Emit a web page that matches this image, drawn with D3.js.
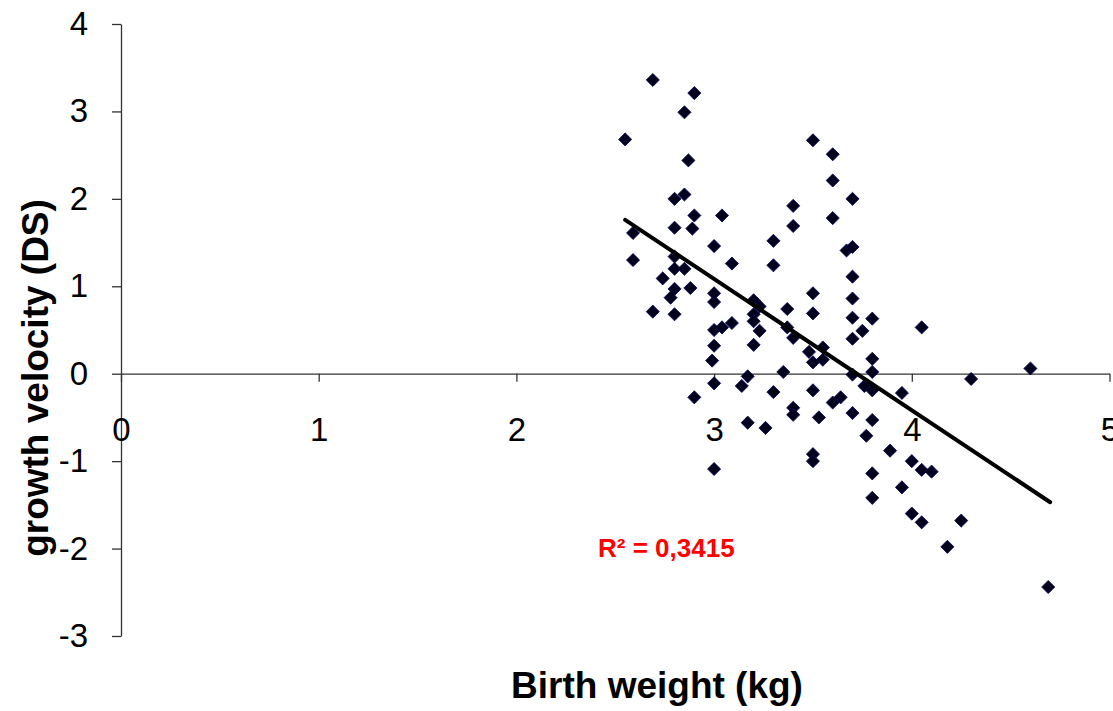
<!DOCTYPE html>
<html>
<head>
<meta charset="utf-8">
<script src="https://cdn.jsdelivr.net/npm/d3@7"></script>
<style>
  html, body { margin: 0; padding: 0; background: #fff; }
  svg { display: block; font-family: "Liberation Sans", Arial, sans-serif; }
</style>
</head>
<body>
<div id="chart"></div>
<script>
// birth weight (kg) of each child
const birthWeight = [
  2.55, 2.69, 2.90, 2.85, 2.87, 2.80, 2.85, 2.90, 3.04, 2.80, 2.89, 2.59, 3.00, 2.59, 2.80, 3.09,
  2.80, 2.85, 2.74, 2.80, 2.88, 2.78, 3.00, 3.00, 2.69, 2.80, 3.00, 3.04, 3.09, 3.00, 2.99, 3.00,
  3.14, 3.17, 2.90, 3.17, 3.00,
  3.50, 3.60, 3.60, 3.70, 3.40, 3.60, 3.40, 3.30, 3.67, 3.70, 3.30, 3.70, 3.50, 3.20, 3.23, 3.70,
  3.37, 3.50, 3.20, 3.20, 3.70, 3.80, 3.23, 3.37, 3.75, 3.40, 3.70, 3.20, 3.55, 3.48, 3.50, 3.55,
  3.80, 3.35, 3.70, 3.80, 3.76, 3.80, 3.30, 3.50, 3.60, 3.64, 3.40, 3.40, 3.53, 3.70, 3.80, 3.26,
  3.77, 3.50, 3.50, 3.80, 3.89, 3.80,
  4.05, 4.60, 4.30, 3.95, 4.00, 4.05, 4.10, 3.95, 4.00, 4.05, 4.25, 4.18, 4.69
];

// growth velocity (DS), same order
const growthVelocity = [
  2.68, 3.36, 3.21, 2.99, 2.44, 2.00, 2.05, 1.81, 1.81, 1.67, 1.66, 1.61, 1.46, 1.30, 1.34, 1.26,
  1.20, 1.20, 1.09, 0.97, 0.98, 0.87, 0.92, 0.82, 0.71, 0.68, 0.50, 0.53, 0.58, 0.32, 0.15, -0.11,
  -0.14, -0.03, -0.27, -0.56, -1.09,
  2.67, 2.51, 2.21, 2.00, 1.92, 1.78, 1.69, 1.52, 1.41, 1.45, 1.24, 1.11, 0.92, 0.84, 0.77, 0.86,
  0.74, 0.69, 0.68, 0.60, 0.64, 0.63, 0.49, 0.53, 0.49, 0.41, 0.40, 0.33, 0.30, 0.25, 0.13, 0.16,
  0.17, 0.02, -0.01, 0.02, -0.14, -0.19, -0.21, -0.19, -0.33, -0.27, -0.39, -0.47, -0.50, -0.45,
  -0.53, -0.62, -0.71, -0.92, -1.00, -1.14, -0.88, -1.42,
  0.53, 0.06, -0.06, -0.22, -1.00, -1.10, -1.12, -1.30, -1.60, -1.70, -1.68, -1.98, -2.44
];

// linear trend line end points
const trendX = [2.55, 4.70];
const trendY = [1.76, -1.47];

const xTicks = [0, 1, 2, 3, 4, 5];
const yTicks = [-3, -2, -1, 0, 1, 2, 3, 4];
const r2Label = "R² = 0,3415";

const width = 1113, height = 711;

const svg = d3.select("#chart").append("svg")
  .attr("width", width)
  .attr("height", height);

const x = d3.scaleLinear().domain([0, 5]).range([121, 1109.5]);
const y = d3.scaleLinear().domain([-3, 4]).range([636, 24]);

// plain hyphen for negatives, like the original
const fmt = d => String(d);

// y axis
const yAxis = svg.append("g")
  .attr("transform", `translate(${x(0)},0)`)
  .call(d3.axisLeft(y).tickValues(yTicks).tickSize(9).tickSizeOuter(0).tickPadding(24)
    .tickFormat(fmt));
yAxis.select(".domain").attr("stroke", "#333").attr("stroke-width", 1.3);
yAxis.selectAll(".tick line").attr("stroke", "#333").attr("stroke-width", 1.3);
yAxis.selectAll(".tick text")
  .attr("fill", "#000")
  .style("font-size", "33px")
  .attr("font-family", null);

// x axis, crossing at y = 0
const xAxis = svg.append("g")
  .attr("transform", `translate(0,${y(0)})`)
  .call(d3.axisBottom(x).tickValues(xTicks).tickSize(8).tickSizeOuter(0)
    .tickFormat(fmt));
xAxis.select(".domain").attr("stroke", "#333").attr("stroke-width", 1.3);
xAxis.selectAll(".tick line").attr("stroke", "#333").attr("stroke-width", 1.3);
xAxis.selectAll(".tick text")
  .attr("fill", "#000")
  .attr("y", 67)
  .attr("dy", null)
  .style("font-size", "33px")
  .attr("font-family", null);

// data points as diamonds
const points = birthWeight.map((w, i) => ({ w: w, v: growthVelocity[i] }));
svg.append("g").selectAll("path")
  .data(points)
  .enter()
  .append("path")
  .attr("d", d3.symbol().type(d3.symbolSquare).size(86))
  .attr("transform", d => `translate(${x(d.w)},${y(d.v)}) rotate(45)`)
  .attr("fill", "#00001c")
  .attr("stroke", "#0a0a5c")
  .attr("stroke-width", 0.8);

// trend line
const line = d3.line()
  .x(d => x(d[0]))
  .y(d => y(d[1]));
svg.append("path")
  .datum(trendX.map((t, i) => [t, trendY[i]]))
  .attr("fill", "none")
  .attr("stroke", "#000")
  .attr("stroke-width", 4)
  .attr("stroke-linecap", "round")
  .attr("d", line);

// R squared label
svg.append("text")
  .attr("x", 598)
  .attr("y", 557)
  .attr("fill", "#ff0000")
  .style("font-size", "26px")
  .style("font-weight", "bold")
  .text(r2Label);

// axis titles
svg.append("text")
  .attr("x", 657)
  .attr("y", 698)
  .attr("text-anchor", "middle")
  .style("font-size", "37px")
  .style("font-weight", "bold")
  .text("Birth weight (kg)");

svg.append("text")
  .attr("transform", "translate(48,378) rotate(-90)")
  .attr("text-anchor", "middle")
  .style("font-size", "37px")
  .style("font-weight", "bold")
  .text("growth velocity (DS)");
</script>
</body>
</html>
